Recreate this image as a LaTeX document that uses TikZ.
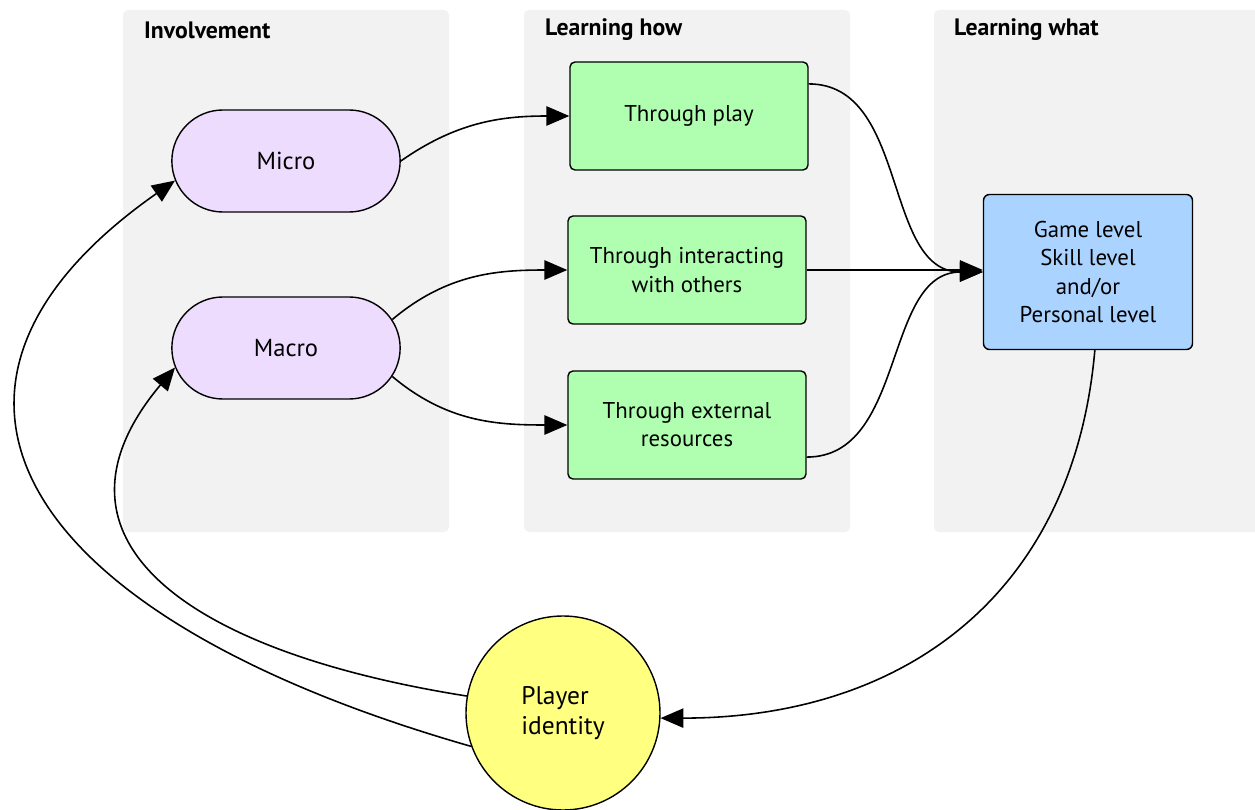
\documentclass[tikz,border=0pt]{standalone}
\usepackage{fontspec}
\setmainfont{PT Sans}
\usepackage{tikz}
\usetikzlibrary{arrows.meta}
\usetikzlibrary{shapes.misc}
\usetikzlibrary{positioning}

\definecolor{panelgray}{HTML}{F2F2F2}
\definecolor{involvefill}{HTML}{EEDCFF}
\definecolor{howfill}{HTML}{B0FFB0}
\definecolor{whatfill}{HTML}{AAD4FF}
\definecolor{identityfill}{HTML}{FFFF80}

\tikzset{
    panel/.style={fill=panelgray, rounded corners=0.1cm},
    paneltitle/.style={anchor=west, font=\fontsize{13.5}{16}\selectfont\bfseries},
    involve/.style={draw, line width=0.8pt, fill=involvefill, rounded rectangle,
        minimum width=4.8cm, minimum height=2.04cm, font=\fontsize{14}{17}\selectfont},
    howbox/.style={draw, line width=0.8pt, fill=howfill, rounded corners=0.1cm,
        minimum width=4.76cm, minimum height=2.16cm, align=center,
        font=\fontsize{13}{16}\selectfont},
    whatbox/.style={draw, line width=0.8pt, fill=whatfill, rounded corners=0.12cm,
        minimum width=4.18cm, minimum height=3.1cm, align=center,
        font=\fontsize{13}{16}\selectfont},
    identity/.style={draw, line width=0.8pt, fill=identityfill, circle,
        minimum size=3.88cm, align=left, font=\fontsize{14.5}{17.5}\selectfont},
    link/.style={line width=0.9pt, ->, >={Triangle[length=13pt,width=11pt]}}
}

\begin{document}
\begin{tikzpicture}
    \useasboundingbox (0,0) rectangle (25.1,-16.2);

    % three columns
    \fill[panel] (2.46,-0.2) rectangle (8.98,-10.64);
    \fill[panel] (10.48,-0.2) rectangle (17.0,-10.64);
    \fill[panel] (18.68,-0.2) rectangle (25.3,-10.64);
    \node[paneltitle] (tinv) at (2.76,-0.6) {Involvement};
    \node[paneltitle] (thow) at (10.78,-0.6) {Learning how};
    \node[paneltitle] (twhat) at (18.96,-0.6) {Learning what};

    % nodes
    \node[involve] (micro) at (5.72,-3.22) {Micro};
    \node[involve] (macro) at (5.72,-6.96) {Macro};

    \node[howbox] (play) at (13.78,-2.32) {Through play};
    \node[howbox] (interact) at (13.74,-5.40) {Through interacting\\with others};
    \node[howbox] (external) at (13.74,-8.50) {Through external\\resources};

    \node[whatbox] (levels) at (21.76,-5.44) {Game level\\Skill level\\and/or\\Personal level};

    \node[identity] (player) at (11.26,-14.26) {Player\\identity};

    % connectors
    \draw[link] (micro.east) to [out=35, in=180] (play.west);
    \draw[link] (macro.15) to [out=40, in=180] (interact.west);
    \draw[link] (macro.-15) to [out=-40, in=180] (external.west);

    \draw[link] (play.15) to [out=0, in=180] (levels.west);
    \draw[link] (interact.east) -- (interact.east -| levels.west);
    \draw[link] (external.-15) to [out=0, in=180] (levels.west);

    \draw[link] (levels.-85) to [out=-95, in=0, looseness=1.1] (player.-3);

    \draw[link] (player.200) to [out=164, in=215, out looseness=1.91, in looseness=1.43] (micro.190);
    \draw[link] (player.170) to [out=171, in=230, out looseness=1.7, in looseness=1.28] (macro.190);
\end{tikzpicture}
\end{document}
